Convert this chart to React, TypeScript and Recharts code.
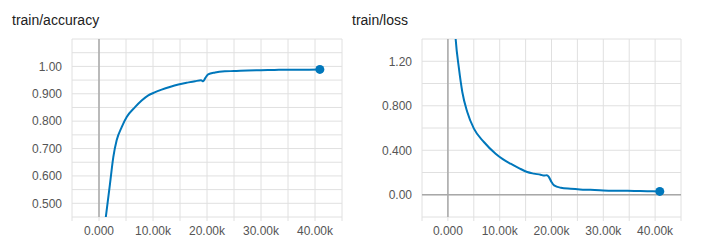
import React from 'react';
import { LineChart, Line, XAxis, YAxis, CartesianGrid, ReferenceLine } from 'recharts';

// accuracy run
const accSteps = [900, 1300, 2040, 2650, 3270, 4200, 5130, 6670, 7900, 9130, 10300, 11600, 13100, 14700, 16200, 17800, 18900, 19300, 19700, 20200, 21500, 23300, 25000, 27500, 30000, 32500, 35000, 37500, 40900];
const accValues = [0.393, 0.456, 0.572, 0.669, 0.73, 0.778, 0.815, 0.851, 0.875, 0.894, 0.905, 0.915, 0.925, 0.934, 0.94, 0.946, 0.949, 0.946, 0.958, 0.971, 0.978, 0.982, 0.983, 0.985, 0.986, 0.987, 0.988, 0.988, 0.989];

// loss run
const lossSteps = [1000, 1490, 2130, 2780, 3740, 5020, 6950, 9210, 10600, 12100, 13700, 15300, 16600, 17900, 18600, 19100, 19500, 20000, 20500, 21800, 23700, 25500, 27500, 30000, 33000, 36000, 38500, 40900];
const lossValues = [1.8, 1.405, 1.135, 0.924, 0.744, 0.594, 0.474, 0.369, 0.32, 0.279, 0.24, 0.204, 0.19, 0.18, 0.172, 0.176, 0.159, 0.115, 0.084, 0.063, 0.054, 0.048, 0.044, 0.039, 0.036, 0.034, 0.032, 0.03];

const xTicks = [-5000, 0, 5000, 10000, 15000, 20000, 25000, 30000, 35000, 40000, 45000];
const accTicks = [0.45, 0.5, 0.55, 0.6, 0.65, 0.7, 0.75, 0.8, 0.85, 0.9, 0.95, 1.0, 1.05, 1.1];
const accLabels = [0.5, 0.6, 0.7, 0.8, 0.9, 1.0];
const lossTicks = [-0.2, 0, 0.2, 0.4, 0.6, 0.8, 1.0, 1.2, 1.4];
const lossLabels = [0, 0.4, 0.8, 1.2];

const BLUE = '#0077bb';
const GRID = '#e0e0e0';
const ZERO = '#a8a8a8';
const FONT = '"Liberation Sans", Arial, sans-serif';

const fmtX = (v: number) => {
  if (v === 0) return '0.000';
  if (v > 0 && v % 10000 === 0) return (v / 1000).toFixed(2) + 'k';
  return '';
};

const makeFmtY = (labels: number[]) => (v: number) => {
  if (!labels.some(l => Math.abs(l - v) < 1e-9)) return '';
  if (v === 0) return '0.00';
  return v.toPrecision(3);
};

const lastDot = (count: number) => (props: any) => {
  const { cx, cy, index } = props;
  if (index !== count - 1) return <g key={`d-${index}`} />;
  return <circle key={`d-${index}`} cx={cx} cy={cy} r={4.5} fill={BLUE} />;
};

function Panel({ title, left, width, titleLeft, marginRight, data, domain, yTicks, yLabels, zeroY }: any) {
  return (
    <div style={{ position: 'absolute', left, top: 0, width, height: 241 }}>
      <div style={{ position: 'absolute', left: titleLeft, top: 12, fontFamily: FONT, fontSize: 14, color: '#212121' }}>{title}</div>
      <LineChart width={width} height={241} data={data} margin={{ top: 39, right: marginRight, bottom: 0, left: 0 }}>
        <CartesianGrid stroke={GRID} strokeWidth={1} />
        <XAxis
          dataKey="step"
          type="number"
          domain={[-5000, 45000]}
          ticks={xTicks}
          tickFormatter={fmtX}
          interval={0}
          height={24}
          axisLine={false}
          tickLine={{ stroke: GRID }}
          tickSize={4}
          tickMargin={5}
          tick={{ fill: '#555', fontSize: 12, fontFamily: FONT }}
        />
        <YAxis
          type="number"
          domain={domain}
          ticks={yTicks}
          tickFormatter={makeFmtY(yLabels)}
          interval={0}
          allowDataOverflow
          width={72}
          axisLine={false}
          tickLine={false}
          tickSize={0}
          tickMargin={10}
          tick={{ fill: '#555', fontSize: 12, fontFamily: FONT }}
        />
        <ReferenceLine x={0} stroke={ZERO} strokeWidth={1.5} />
        {zeroY && <ReferenceLine y={0} stroke={ZERO} strokeWidth={1.5} />}
        <Line
          type="monotone"
          dataKey="value"
          stroke={BLUE}
          strokeWidth={2}
          dot={lastDot(data.length)}
          activeDot={false}
          isAnimationActive={false}
        />
      </LineChart>
    </div>
  );
}

export default function App() {
  const accData = accSteps.map((s, i) => ({ step: s, value: accValues[i] }));
  const lossData = lossSteps.map((s, i) => ({ step: s, value: lossValues[i] }));
  return (
    <div style={{ position: 'absolute', left: 0, top: 0, width: 716, height: 241, background: '#fff' }}>
      <Panel title="train/accuracy" left={0} width={350} titleLeft={12} marginRight={8} data={accData} domain={[0.45, 1.1]} yTicks={accTicks} yLabels={accLabels} zeroY={false} />
      <Panel title="train/loss" left={350} width={366} titleLeft={2} marginRight={35} data={lossData} domain={[-0.2, 1.4]} yTicks={lossTicks} yLabels={lossLabels} zeroY />
    </div>
  );
}
